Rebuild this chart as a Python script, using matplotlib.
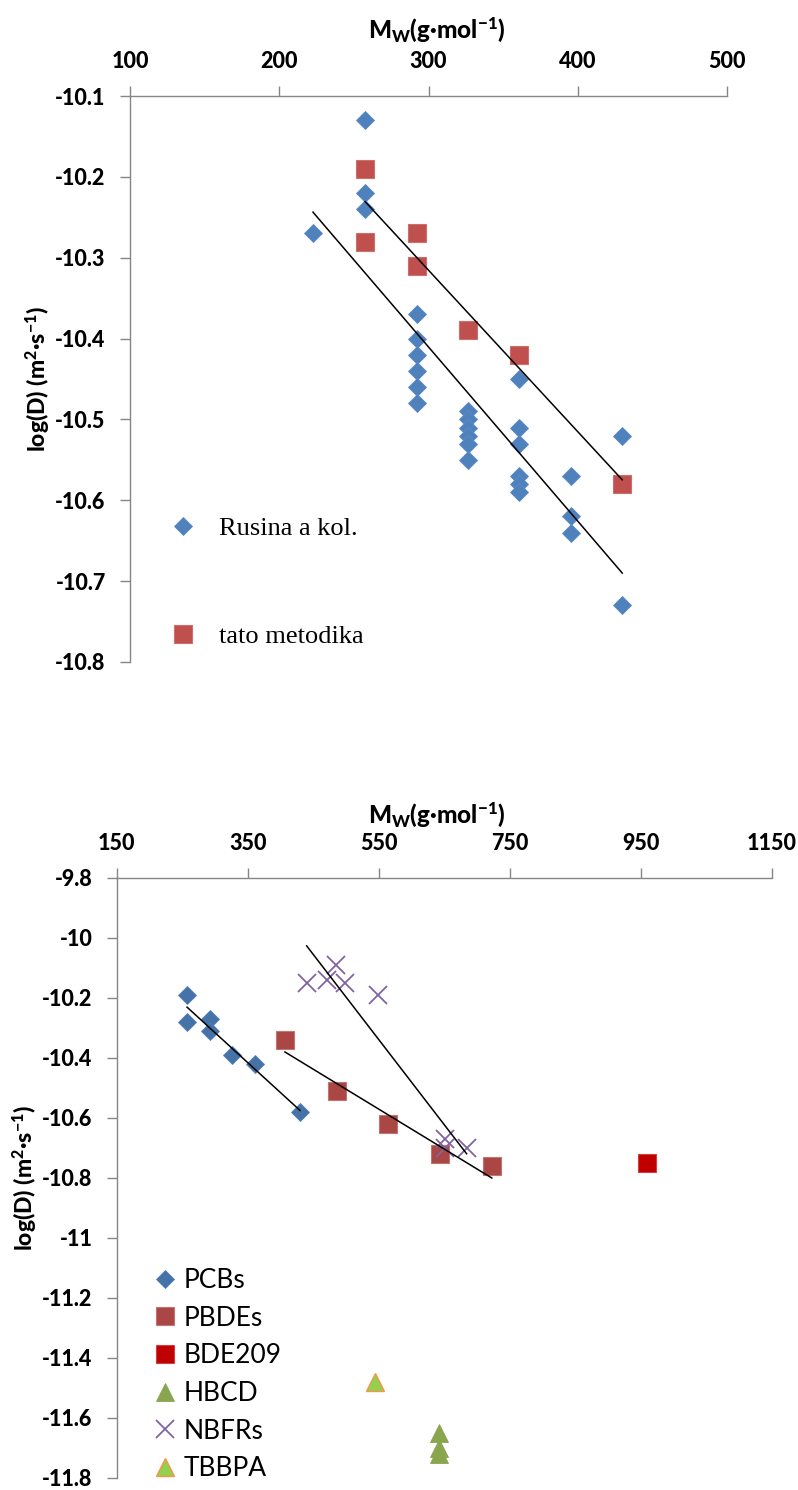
import matplotlib
matplotlib.use('Agg')
import matplotlib.pyplot as plt
import numpy as np

plt.rcParams['font.family'] = ['Lato', 'DejaVu Sans']
plt.rcParams['mathtext.fontset'] = 'custom'
plt.rcParams['mathtext.rm'] = 'Lato'
plt.rcParams['mathtext.bf'] = 'Lato:black'
plt.rcParams['mathtext.default'] = 'bf'
plt.rcParams['axes.unicode_minus'] = False

# ---------------- data: top chart ----------------
rusina_mw = [257.5, 257.5, 257.5, 222.6,
             292.0, 292.0, 292.0, 292.0, 292.0, 292.0,
             326.5, 326.5, 326.5, 326.5, 326.5, 326.5,
             360.9, 360.9, 360.9, 360.9, 360.9, 360.9,
             395.3, 395.3, 395.3,
             429.8, 429.8]
rusina_logd = [-10.13, -10.22, -10.24, -10.27,
               -10.37, -10.40, -10.42, -10.44, -10.46, -10.48,
               -10.49, -10.50, -10.51, -10.52, -10.53, -10.55,
               -10.45, -10.51, -10.53, -10.57, -10.58, -10.59,
               -10.57, -10.62, -10.64,
               -10.52, -10.73]
tato_mw = [257.5, 257.5, 292.0, 292.0, 326.5, 360.9, 429.8]
tato_logd = [-10.19, -10.28, -10.27, -10.31, -10.39, -10.42, -10.58]

top_xticks = [100, 200, 300, 400, 500]
top_yticks = [-10.1, -10.2, -10.3, -10.4, -10.5, -10.6, -10.7, -10.8]

# ---------------- data: bottom chart ----------------
pcb_mw = tato_mw
pcb_logd = tato_logd
pbde_mw = [406.9, 485.8, 564.7, 643.6, 722.5]
pbde_logd = [-10.34, -10.51, -10.62, -10.72, -10.76]
bde209_mw = [959.2]
bde209_logd = [-10.75]
hbcd_mw = [641.7, 641.7, 641.7]
hbcd_logd = [-11.65, -11.70, -11.72]
nbfr_mw = [440.0, 470.5, 484.0, 498.5, 549.5, 651.0, 651.0, 684.0]
nbfr_logd = [-10.15, -10.14, -10.09, -10.15, -10.19, -10.67, -10.70, -10.70]
tbbpa_mw = [543.9]
tbbpa_logd = [-11.48]

bot_xticks = [150, 350, 550, 750, 950, 1150]
bot_yticks = [-9.8, -10.0, -10.2, -10.4, -10.6, -10.8, -11.0, -11.2, -11.4, -11.6, -11.8]

xlabel_txt = r'M$_{\mathbf{W}}$(g·mol$^{\mathbf{-1}}$)'
ylabel_txt = r'log(D) (m$^{\mathbf{2}}$·s$^{\mathbf{-1}}$)'

GRAY = '#868686'
WEIGHT = 'black'

fig = plt.figure(figsize=(7.98, 14.90), dpi=100)
W, H = 798, 1490
ax1 = fig.add_axes([130 / W, 1 - 662 / H, (727 - 130) / W, (662 - 96) / H])
ax2 = fig.add_axes([116.6 / W, 1 - 1478 / H, (772 - 116.6) / W, (1478 - 878) / H])


def style(ax, xt, yt):
    for s in ['right', 'bottom']:
        ax.spines[s].set_visible(False)
    for s in ['top', 'left']:
        ax.spines[s].set_color(GRAY)
        ax.spines[s].set_linewidth(1.0)
    ax.xaxis.tick_top()
    ax.xaxis.set_label_position('top')
    ax.set_xticks(xt)
    ax.set_yticks(yt)
    ax.set_xticklabels(['%g' % v for v in xt])
    ax.set_yticklabels(['%g' % v for v in yt])
    ax.tick_params(axis='both', direction='out', length=7, width=1.0, color=GRAY,
                   labelsize=15.5, pad=10.5)
    for lab in ax.get_xticklabels() + ax.get_yticklabels():
        lab.set_fontweight(WEIGHT)
    ax.set_xlim(xt[0], xt[-1])
    ax.set_ylim(yt[-1], yt[0])


def trend(ax, x, y):
    x = np.asarray(x, float)
    y = np.asarray(y, float)
    k, q = np.polyfit(x, y, 1)
    xs = np.array([x.min(), x.max()])
    ax.plot(xs, k * xs + q, color='black', lw=1.1, zorder=4)


# ---------------- top chart ----------------
style(ax1, top_xticks, top_yticks)
ax1.plot(rusina_mw, rusina_logd, 'D', ms=9.2, color='#4F81BD', mec='#5B8AC4', mew=0.6,
         ls='none', zorder=3, clip_on=False, label='Rusina a kol.')
ax1.plot(tato_mw, tato_logd, 's', ms=13.6, color='#C0504D', mec='#CD6F6C', mew=0.8,
         ls='none', zorder=3, clip_on=False, label='tato metodika')
trend(ax1, rusina_mw, rusina_logd)
trend(ax1, tato_mw, tato_logd)

ax1.set_xlabel(xlabel_txt, fontsize=17.5, fontweight=WEIGHT, va='center')
ax1.xaxis.set_label_coords(0.514, (662 - 30) / 566)
ax1.set_ylabel(ylabel_txt, fontsize=16.5, fontweight=WEIGHT, va='center', ha='center')
ax1.yaxis.set_label_coords((38 - 130) / 597, 0.5)

leg1 = ax1.legend(loc='upper left', bbox_to_anchor=(170 / W, 1 - 517 / H),
                  bbox_transform=fig.transFigure, frameon=False,
                  prop={'family': 'Liberation Serif', 'size': 19},
                  handlelength=1.0, handletextpad=0.85, labelspacing=3.18,
                  borderpad=0, borderaxespad=0)

# ---------------- bottom chart ----------------
style(ax2, bot_xticks, bot_yticks)
ax2.plot(pcb_mw, pcb_logd, 'D', ms=9.6, color='#4572A7', mec='#5580B5', mew=0.6,
         ls='none', zorder=3, clip_on=False, label='PCBs')
ax2.plot(pbde_mw, pbde_logd, 's', ms=13.4, color='#AA4643', mec='#C07573', mew=0.8,
         ls='none', zorder=3, clip_on=False, label='PBDEs')
ax2.plot(bde209_mw, bde209_logd, 's', ms=13.4, color='#C00000', mec='#D04040', mew=0.8,
         ls='none', zorder=3, clip_on=False, label='BDE209')
ax2.plot(hbcd_mw, hbcd_logd, '^', ms=13.5, color='#89A54E', mec='#89A54E', mew=0.6,
         ls='none', zorder=3, clip_on=False, label='HBCD')
ax2.plot(nbfr_mw, nbfr_logd, 'x', ms=13, color='#8064A2', mew=1.3,
         ls='none', zorder=3, clip_on=False, label='NBFRs')
ax2.plot(tbbpa_mw, tbbpa_logd, '^', ms=13.5, color='#92D050', mec='#F79646', mew=1.0,
         ls='none', zorder=3, clip_on=False, label='TBBPA')
trend(ax2, pcb_mw, pcb_logd)
trend(ax2, pbde_mw, pbde_logd)
trend(ax2, nbfr_mw, nbfr_logd)

ax2.set_xlabel(xlabel_txt, fontsize=17.5, fontweight=WEIGHT, va='center')
ax2.xaxis.set_label_coords((437 - 116.6) / 655.4, (1478 - 815) / 600)
ax2.set_ylabel(ylabel_txt, fontsize=16.5, fontweight=WEIGHT, va='center', ha='center')
ax2.yaxis.set_label_coords((25 - 116.6) / 655.4, 0.5)

leg2 = ax2.legend(loc='upper left', bbox_to_anchor=(152 / W, 1 - 1268 / H),
                  bbox_transform=fig.transFigure, frameon=False,
                  prop={'size': 19},
                  handlelength=1.0, handletextpad=0.2, labelspacing=0.48,
                  borderpad=0, borderaxespad=0)

fig.savefig('out.png', dpi=100)
